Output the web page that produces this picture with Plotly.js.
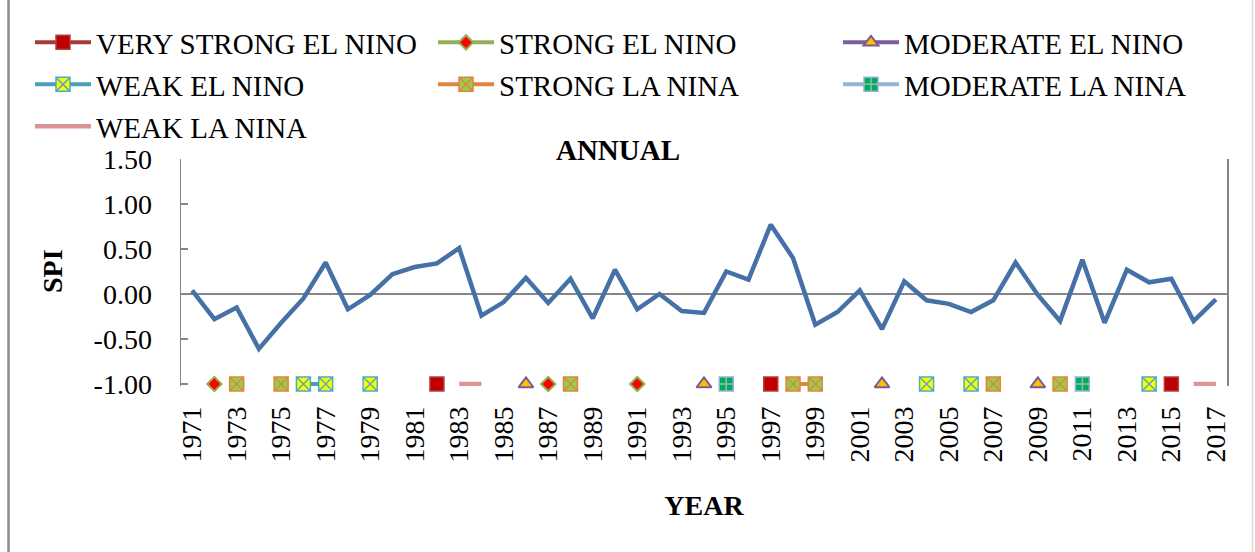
<!DOCTYPE html>
<html>
<head>
<meta charset="utf-8">
<script src="https://cdn.plot.ly/plotly-3.0.1.min.js"></script>
<style>
  html, body { margin: 0; padding: 0; background: #ffffff; }
  #chart { width: 1255px; height: 552px; }
</style>
</head>
<body>
<div id="chart"></div>
<script>
// ---- Data ----
const years = [1971,1972,1973,1974,1975,1976,1977,1978,1979,1980,1981,1982,1983,1984,1985,1986,1987,1988,1989,1990,
               1991,1992,1993,1994,1995,1996,1997,1998,1999,2000,2001,2002,2003,2004,2005,2006,2007,2008,2009,2010,
               2011,2012,2013,2014,2015,2016,2017];
const spi = [0.04,-0.28,-0.15,-0.61,-0.32,-0.05,0.35,-0.17,-0.01,0.22,0.30,0.34,0.51,-0.24,-0.09,0.18,-0.10,0.17,-0.27,0.27,
             -0.17,0.00,-0.19,-0.21,0.25,0.16,0.77,0.40,-0.34,-0.20,0.04,-0.39,0.14,-0.07,-0.11,-0.20,-0.07,0.35,-0.01,-0.30,
             0.38,-0.32,0.27,0.13,0.17,-0.30,-0.06];

const eventLevel = -1.0;
const veryStrongElNino = [1982, 1997, 2015];
const strongElNino = [1972, 1987, 1991];
const moderateElNino = [1986, 1994, 2002, 2009];
const weakElNino = [1976, 1977, 1979, 2004, 2006, 2014];
const strongLaNina = [1973, 1975, 1988, 1998, 1999, 2007, 2010];
const moderateLaNina = [1995, 2011];
const weakLaNina = [1983, 1984, 2016, 2017];

const xTickYears = [1971,1973,1975,1977,1979,1981,1983,1985,1987,1989,1991,1993,1995,1997,1999,2001,2003,2005,2007,2009,2011,2013,2015,2017];
const yTickVals = [-1.0, -0.5, 0.0, 0.5, 1.0, 1.5];
const yTickText = ['-1.00', '-0.50', '0.00', '0.50', '1.00', '1.50'];

// ---- Build ----
const xs = years.map(String);
function eventY(list) { return years.map(y => list.indexOf(y) >= 0 ? eventLevel : null); }

const FONT = 'Liberation Serif, Times New Roman, serif';
const FS = 28;
const LFS = 29;

const traces = [
  { x: xs, y: spi, type: 'scatter', mode: 'lines', name: 'SPI', showlegend: false,
    line: { color: '#4571A6', width: 4.5 } },
  { x: xs, y: eventY(veryStrongElNino), type: 'scatter', mode: 'lines+markers', name: 'VERY STRONG EL NINO',
    legend: 'legend', connectgaps: false, cliponaxis: false,
    line: { color: '#A83B39', width: 4 },
    marker: { symbol: 'square', size: 14, color: '#C00000', line: { color: '#B04040', width: 1.5 } } },
  { x: xs, y: eventY(strongElNino), type: 'scatter', mode: 'lines+markers', name: 'STRONG EL NINO',
    legend: 'legend2', connectgaps: false, cliponaxis: false,
    line: { color: '#92B05A', width: 4 },
    marker: { symbol: 'diamond', size: 11, color: '#FF0000', line: { color: '#8DB150', width: 2 } } },
  { x: xs, y: eventY(moderateElNino), type: 'scatter', mode: 'lines+markers', name: 'MODERATE EL NINO',
    legend: 'legend3', connectgaps: false, cliponaxis: false,
    line: { color: '#7B5C9E', width: 4 },
    marker: { symbol: 'triangle-up', size: 13, color: '#FFC000', line: { color: '#7A5A9A', width: 2 } } },
  { x: xs, y: eventY(weakElNino), type: 'scatter', mode: 'lines+markers', name: 'WEAK EL NINO',
    legend: 'legend4', connectgaps: false, cliponaxis: false,
    line: { color: '#4A9DBB', width: 4 },
    marker: { symbol: 'square-x', size: 14, color: '#FFFF00', line: { color: '#4BACC6', width: 1.5 } } },
  { x: xs, y: eventY(strongLaNina), type: 'scatter', mode: 'lines+markers', name: 'STRONG LA NINA',
    legend: 'legend5', connectgaps: false, cliponaxis: false,
    line: { color: '#DF8340', width: 4 },
    marker: { symbol: 'square-x', size: 14, color: '#92D050', line: { color: '#E8823A', width: 1.5 } } },
  { x: xs, y: eventY(moderateLaNina), type: 'scatter', mode: 'lines+markers', name: 'MODERATE LA NINA',
    legend: 'legend6', connectgaps: false, cliponaxis: false,
    line: { color: '#95B3D7', width: 4 },
    marker: { symbol: 'square-cross', size: 14, color: '#00B050', line: { color: '#95B3D7', width: 1.5 } } },
  { x: xs, y: eventY(weakLaNina), type: 'scatter', mode: 'lines', name: 'WEAK LA NINA',
    legend: 'legend7', connectgaps: false, cliponaxis: false,
    line: { color: '#D99694', width: 4.5 } }
];

const W = 1255, H = 552;
const ML = 181, MR = 28, MT = 159, MB = 166;
const PW = W - ML - MR, PH = H - MT - MB;
const PX_PER_UNIT = 90;                 // 0.50 SPI = 45 px
const yBottom = 1.5 - PH / PX_PER_UNIT;  // a little below -1 so the event lines are not clipped

function legendAt(leftPx, topPx) {
  return {
    orientation: 'v', xref: 'container', yref: 'container',
    x: leftPx / W, xanchor: 'left', y: 1 - topPx / H, yanchor: 'top',
    font: { family: FONT, size: LFS, color: '#000000' },
    itemwidth: 56,
    bgcolor: 'rgba(0,0,0,0)', borderwidth: 0
  };
}

const COLS = [30, 433, 838];
const ROWS = [17, 59, 101];

const layout = {
  width: W, height: H,
  margin: { l: ML, r: MR, t: MT, b: MB, autoexpand: false },
  paper_bgcolor: '#ffffff', plot_bgcolor: '#ffffff',
  font: { family: FONT, size: FS, color: '#000000' },
  title: { text: 'ANNUAL', font: { family: FONT, size: LFS, color: '#000000', weight: 'bold' },
           x: 618 / W, xanchor: 'center', y: 1 - 150 / H, yanchor: 'middle' },
  showlegend: true,
  legend: legendAt(COLS[0], ROWS[0]),
  legend2: legendAt(COLS[1], ROWS[0]),
  legend3: legendAt(COLS[2], ROWS[0]),
  legend4: legendAt(COLS[0], ROWS[1]),
  legend5: legendAt(COLS[1], ROWS[1]),
  legend6: legendAt(COLS[2], ROWS[1]),
  legend7: legendAt(COLS[0], ROWS[2]),
  xaxis: {
    type: 'category', range: [-0.5, years.length - 0.5],
    tickmode: 'array', tickvals: xTickYears.map(String), ticktext: xTickYears.map(String),
    tickangle: -90, ticks: '', showline: false, showgrid: false, zeroline: false,
    ticklabelstandoff: 14,
    tickfont: { family: FONT, size: FS, color: '#000000' },
    title: { text: 'YEAR', font: { family: FONT, size: FS, color: '#000000', weight: 'bold' }, standoff: 33 }
  },
  yaxis: {
    range: [yBottom, 1.5], tickmode: 'array', tickvals: yTickVals, ticktext: yTickText,
    ticks: 'inside', ticklen: 7, tickwidth: 1.5, tickcolor: '#868686',
    showline: true, linecolor: '#868686', linewidth: 1.5, mirror: true,
    showgrid: false, zeroline: true, zerolinecolor: '#868686', zerolinewidth: 2,
    ticklabelstandoff: 22,
    tickfont: { family: FONT, size: FS, color: '#000000' }
  },
  annotations: [
    { text: 'SPI', xref: 'paper', yref: 'paper',
      x: (52 - ML) / PW, y: (H - MB - 271) / PH, xanchor: 'center', yanchor: 'middle',
      textangle: -90, showarrow: false,
      font: { family: FONT, size: FS, color: '#000000', weight: 'bold' } }
  ],
  shapes: [
    { type: 'line', xref: 'paper', yref: 'paper',
      x0: (8.5 - ML) / PW, x1: (8.5 - ML) / PW, y0: (H - MB) / PH, y1: (H - MB - H) / PH,
      line: { color: '#8C8C8C', width: 2.5 } },
    { type: 'line', xref: 'paper', yref: 'paper',
      x0: (1252.5 - ML) / PW, x1: (1252.5 - ML) / PW, y0: (H - MB) / PH, y1: (H - MB - H) / PH,
      line: { color: '#D9D9D9', width: 1.5 } }
  ]
};

Plotly.newPlot('chart', traces, layout, { displayModeBar: false, staticPlot: true });
</script>
</body>
</html>
